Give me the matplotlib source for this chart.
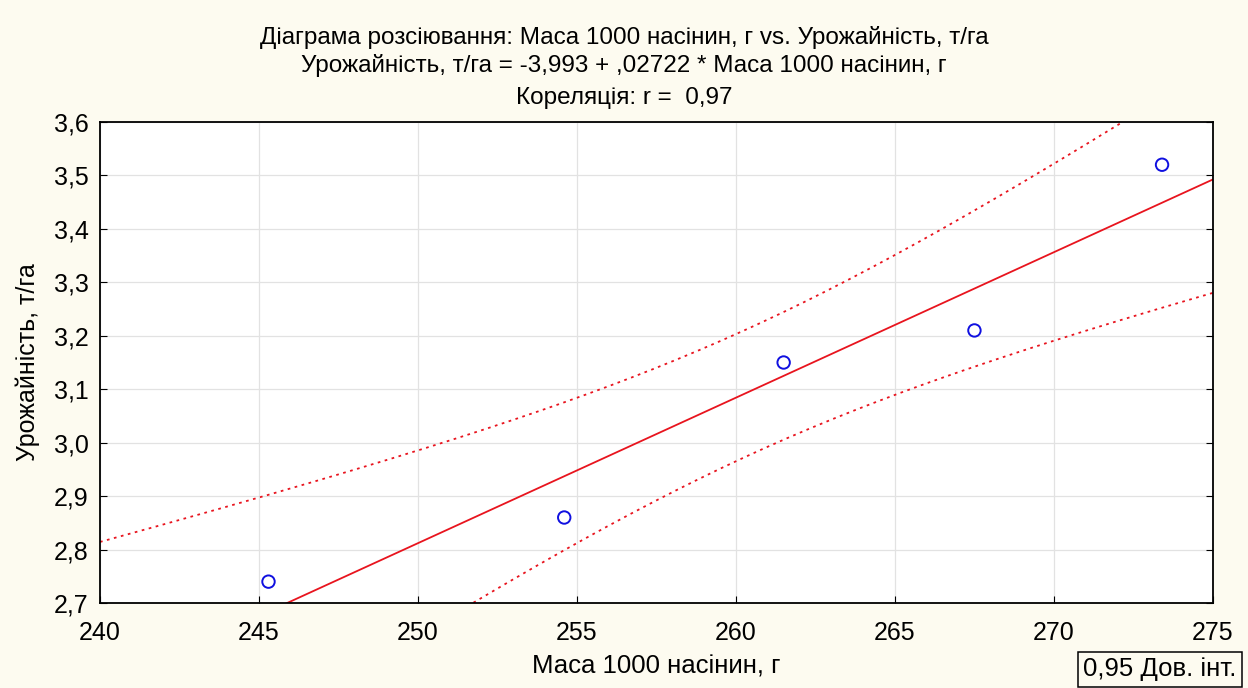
import numpy as np
import matplotlib.pyplot as plt
from matplotlib.ticker import FuncFormatter

plt.rcParams['font.family'] = ['Liberation Sans', 'DejaVu Sans']

# data
mass = np.array([245.3, 254.6, 261.5, 267.5, 273.4])   # Маса 1000 насінин, г
yield_t = np.array([2.74, 2.86, 3.15, 3.21, 3.52])     # Урожайність, т/га
intercept = -3.993
slope = 0.02722
t_crit = 3.182  # t(0.975, df=3)

# regression line and 95% confidence band
xs = np.linspace(240, 275, 200)
fit = intercept + slope * xs
resid = yield_t - (intercept + slope * mass)
n = len(mass)
s = np.sqrt(np.sum(resid ** 2) / (n - 2))
sxx = np.sum((mass - mass.mean()) ** 2)
half = t_crit * s * np.sqrt(1 / n + (xs - mass.mean()) ** 2 / sxx)

fig = plt.figure(figsize=(12.48, 6.88), dpi=100, facecolor='#fdfbf0')
ax = fig.add_axes([0.0801, 0.1235, 0.8918, 0.6992])
ax.set_facecolor('white')

ax.plot(xs, fit, color='#e8141e', lw=1.3)
ax.plot(xs, fit + half, color='#e8141e', lw=1.3, ls=(0, (1.5, 2.5)))
ax.plot(xs, fit - half, color='#e8141e', lw=1.3, ls=(0, (1.5, 2.5)))
ax.scatter(mass, yield_t, s=80, facecolors='none', edgecolors='#1010e0', linewidths=1.4, zorder=5)

ax.set_xlim(240, 275)
ax.set_ylim(2.7, 3.6)
ax.set_xticks(np.arange(240, 276, 5))
ax.set_yticks(np.arange(2.7, 3.61, 0.1))
ax.yaxis.set_major_formatter(FuncFormatter(lambda v, p: f'{v:.1f}'.replace('.', ',')))
ax.grid(True, color='#e2e2e2', lw=0.9)
ax.set_axisbelow(True)
ax.tick_params(direction='in', length=5, labelsize=18, right=True, top=False)
ax.tick_params(axis='x', pad=13)
ax.tick_params(axis='y', pad=8)
for sp in ax.spines.values():
    sp.set_linewidth(1.3)

ax.set_xlabel('Маса 1000 насінин, г', fontsize=18.5, labelpad=7)
ax.set_ylabel('Урожайність, т/га', fontsize=18, labelpad=10)

fig.text(0.5, 0.946, 'Діаграма розсіювання: Маса 1000 насінин, г vs. Урожайність, т/га',
         ha='center', va='center', fontsize=17.5)
fig.text(0.5, 0.905, 'Урожайність, т/га = -3,993 + ,02722 * Маса 1000 насінин, г',
         ha='center', va='center', fontsize=17.5)
fig.text(0.5, 0.857, 'Кореляція: r =  0,97', ha='center', va='center', fontsize=17.5)

fig.text(0.9295, 0.027, '0,95 Дов. інт.', ha='center', va='center', fontsize=18.5,
         bbox=dict(boxstyle='square,pad=0.2', facecolor='#fdfbf0', edgecolor='black', lw=1.1))

fig.savefig('out.png', dpi=100, facecolor=fig.get_facecolor())
